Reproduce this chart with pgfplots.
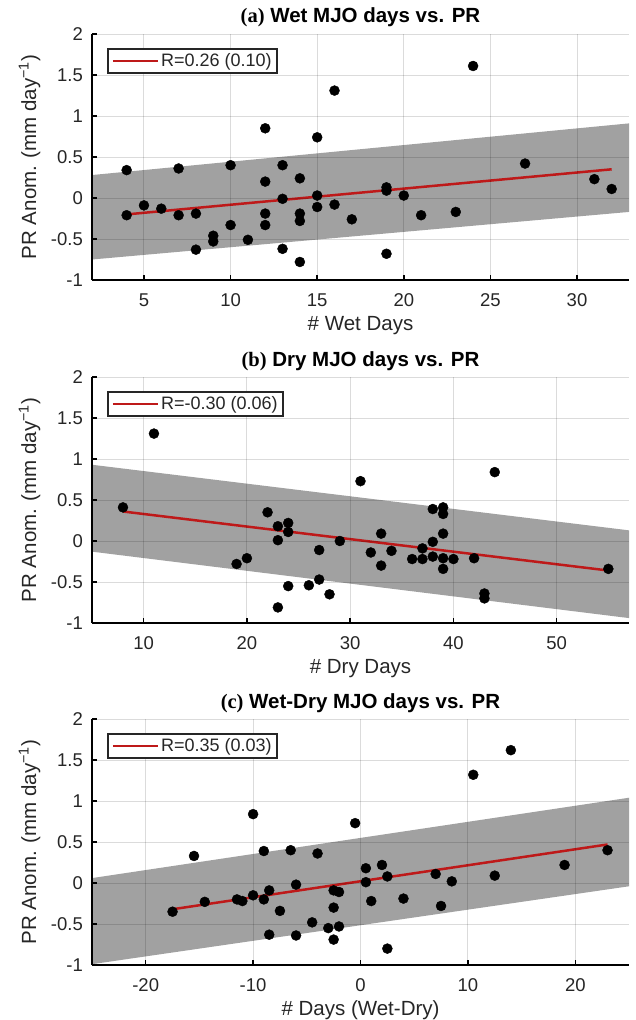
\documentclass[border=0pt]{standalone}
\usepackage{fontspec}
\setmainfont{Liberation Sans}
\newfontfamily\timesb{Liberation Serif}
\usepackage{pgfplots}
\pgfplotsset{compat=1.18}

\definecolor{bandgray}{gray}{0.63}
\definecolor{fitred}{RGB}{190,25,25}
\definecolor{axgray}{RGB}{38,38,38}

\pgfplotsset{
  every axis legend/.append style={line width=2.2pt},
  mjo/.style={
    scale only axis, width=537pt, height=246pt,
    anchor=south west,
    ymin=-1, ymax=2, ytick={-1,-0.5,0,0.5,1,1.5,2},
    axis x line*=bottom, axis y line*=left,
    axis line style={line width=2.2pt, black},
    tick style={black, line width=1.4pt},
    major tick length=5pt,
    tick align=inside,
    grid=major,
    grid style={black, opacity=0.14, line width=1pt},
    axis on top,
    font=\fontsize{20.5}{24}\selectfont,
    tick label style={font=\fontsize{18.5}{22}\selectfont, text=axgray},
    /pgf/number format/assume math mode=true,
    xticklabel style={anchor=base, yshift=-26pt, inner sep=0pt},
    yticklabel style={anchor=east, xshift=-9pt, inner sep=0pt},
    title style={at={(axis description cs:0.5,1)}, anchor=base, yshift=5pt,
      font=\fontsize{20.5}{24}\selectfont\bfseries, inner sep=0pt},
    xlabel style={at={(axis description cs:0.5,0)}, anchor=base, yshift=-50pt,
      inner sep=0pt, text=axgray},
    ylabel style={at={(axis description cs:-0.104,0.5)}, anchor=base,
      inner sep=0pt, text=axgray},
    ylabel={PR Anom. (mm day\textsuperscript{−1})},
    legend style={at={(axis description cs:0.028,0.943)}, anchor=north west,
      draw=axgray, fill=white, line width=2.2pt, inner xsep=3.5pt, inner ysep=2.5pt,
      font=\fontsize{18}{21}\selectfont, text=axgray},
    legend image code/.code={\draw[#1] (0pt,0pt) -- (45pt,0pt);},
  },
  band/.style={fill=bandgray, draw=none, forget plot},
  pts/.style={only marks, mark=*, mark size=5pt, black, forget plot},
  fit/.style={fitred, line width=2.5pt, no markers},
}

\begin{document}
\begin{tikzpicture}
\useasboundingbox (-92pt,-740pt) rectangle (543pt,280pt);

% (a) wet days
\begin{axis}[mjo, at={(0pt,0pt)},
  xmin=2, xmax=33, xtick={5,10,15,20,25,30},
  title={{\timesb (a)} Wet MJO days vs. PR},
  xlabel={\# Wet Days}]
  \addplot[band] coordinates {(2,-0.75) (33,-0.17) (33,0.91) (2,0.28)} -- cycle;
  \addplot[fit] coordinates {(4,-0.20) (32,0.35)};
  \addlegendentry{R=0.26 (0.10)}
  \addplot[pts] table {
    x y
    4 0.34
    4 -0.21
    5 -0.09
    6 -0.13
    7 0.36
    7 -0.21
    8 -0.19
    8 -0.63
    9 -0.46
    9 -0.53
    10 0.40
    10 -0.33
    11 -0.51
    12 0.85
    12 0.20
    12 -0.19
    12 -0.33
    13 0.40
    13 -0.01
    13 -0.62
    14 0.24
    14 -0.19
    14 -0.28
    14 -0.78
    15 0.74
    15 0.03
    15 -0.11
    16 1.31
    16 -0.08
    17 -0.26
    19 0.13
    19 0.09
    19 -0.68
    20 0.03
    21 -0.21
    23 -0.17
    24 1.61
    27 0.42
    31 0.23
    32 0.11
  };
\end{axis}

% (b) dry days
\begin{axis}[mjo, at={(0pt,-343pt)},
  xmin=5, xmax=57, xtick={10,20,30,40,50},
  title={{\timesb (b)} Dry MJO days vs. PR},
  xlabel={\# Dry Days}]
  \addplot[band] coordinates {(5,-0.13) (57,-0.94) (57,0.13) (5,0.93)} -- cycle;
  \addplot[fit] coordinates {(8,0.36) (55,-0.36)};
  \addlegendentry{R=-0.30 (0.06)}
  \addplot[pts] table {
    x y
    8 0.41
    11 1.31
    19 -0.28
    20 -0.21
    22 0.35
    23 0.18
    23 0.01
    23 -0.81
    24 0.22
    24 0.11
    24 -0.55
    26 -0.54
    27 -0.11
    27 -0.47
    28 -0.65
    29 0.00
    31 0.73
    32 -0.14
    33 0.09
    33 -0.30
    34 -0.12
    36 -0.22
    37 -0.22
    37 -0.09
    38 0.39
    38 -0.01
    38 -0.19
    39 0.41
    39 0.33
    39 0.09
    39 -0.21
    39 -0.34
    40 -0.22
    42 -0.21
    43 -0.64
    43 -0.70
    44 0.84
    55 -0.34
  };
\end{axis}

% (c) wet minus dry days
\begin{axis}[mjo, at={(0pt,-685pt)},
  xmin=-25, xmax=25, xtick={-20,-10,0,10,20},
  title={{\timesb (c)} Wet-Dry MJO days vs. PR},
  xlabel={\# Days (Wet-Dry)}]
  \addplot[band] coordinates {(-25,-0.99) (25,-0.04) (25,1.04) (-25,0.06)} -- cycle;
  \addplot[fit] coordinates {(-17.5,-0.32) (23,0.47)};
  \addlegendentry{R=0.35 (0.03)}
  \addplot[pts] table {
    x y
    -17.5 -0.35
    -15.5 0.33
    -14.5 -0.23
    -11.5 -0.20
    -11 -0.22
    -10 0.84
    -10 -0.15
    -9 0.39
    -9 -0.20
    -8.5 -0.09
    -8.5 -0.63
    -7.5 -0.34
    -6.5 0.40
    -6 -0.02
    -6 -0.64
    -4.5 -0.48
    -4 0.36
    -3 -0.55
    -2.5 -0.09
    -2.5 -0.30
    -2.5 -0.69
    -2 -0.11
    -2 -0.53
    -0.5 0.73
    0.5 0.18
    0.5 0.01
    1 -0.22
    2 0.22
    2.5 0.08
    2.5 -0.80
    4 -0.19
    7 0.11
    7.5 -0.28
    8.5 0.02
    10.5 1.32
    12.5 0.09
    14 1.62
    19 0.22
    23 0.40
  };
\end{axis}
\end{tikzpicture}
\end{document}
